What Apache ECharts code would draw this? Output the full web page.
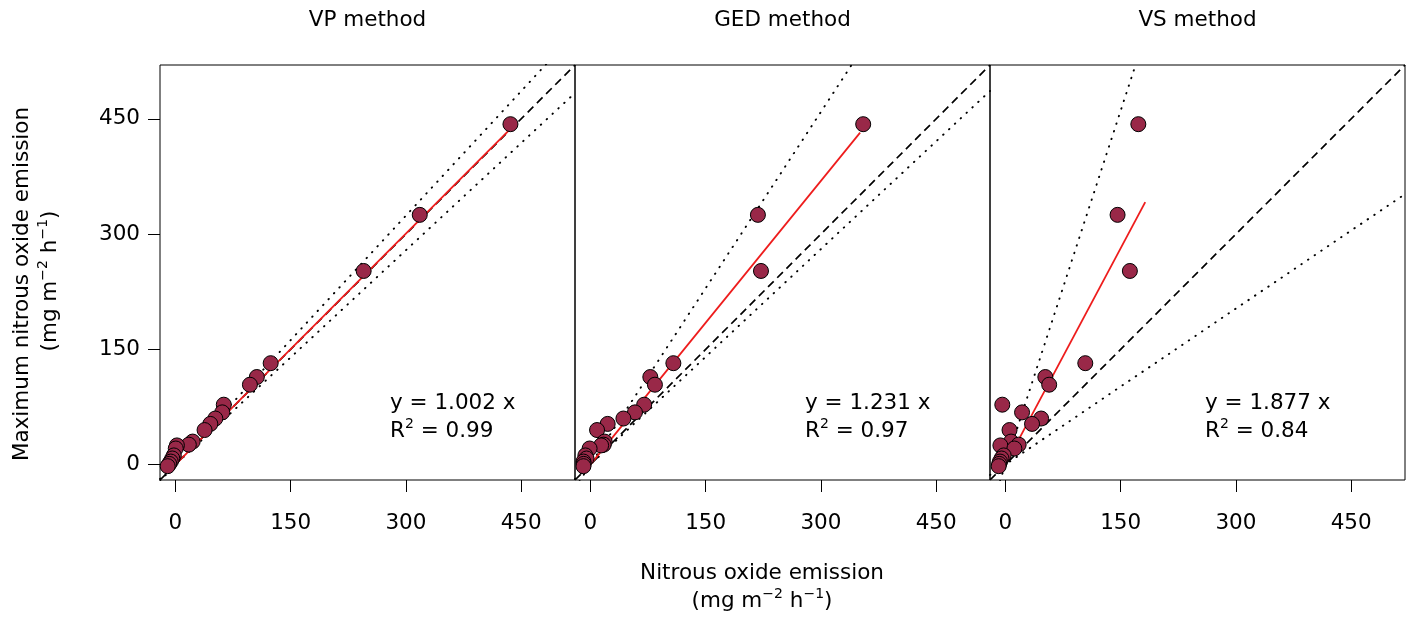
<!DOCTYPE html>
<html><head><meta charset="utf-8">
<script src="https://cdn.jsdelivr.net/npm/echarts@6/dist/echarts.min.js"></script>
<style>html,body{margin:0;padding:0;background:#fff}#c{width:1413px;height:617px}</style>
</head><body><div id="c"></div>
<script>
// ---- data ----
const methods = ['VP method', 'GED method', 'VS method'];
// maximum nitrous oxide emission (y), shared by all panels
const maxEmission = [443, 325, 252, 132, 114, 104, 78, 68, 60, 53, 45, 30, 26, 25, 21, 12, 8, 4, 1, -2];
// estimated emission per method (x)
const vpEmission  = [436, 318, 245, 124, 106, 97, 63, 61, 52, 45.5, 38, 22.5, 17.5, 2, 0.5, -2, -4, -6, -8, -10];
const gedEmission = [355, 218, 222, 108, 78, 84, 70, 58, 43, 22.5, 8.7, 18.6, 17.3, 14, -1, -6.5, -5, -9, -8.7, -9];
const vsEmission  = [173, 146, 162, 104, 52, 57, -4, 21.7, 46.5, 34.7, 5.4, 7.4, 17.3, -6.5, 11.7, -2.2, -5, -7, -8, -8.7];
const fitSlope = [1.002, 1.231, 1.877];
const fitR2 = ['0.99', '0.97', '0.84'];
const fitXStart = [0, 0, 0];
const fitXEnd = [434, 351, 182];
const upperSlope = [1.08, 1.53, 3.07];
const lowerSlope = [0.93, 0.935, 0.677];
const tickValues = [0, 150, 300, 450];
const axisMin = -20, axisMax = 520;

const xs = [vpEmission, gedEmission, vsEmission];
const FONT = 'DejaVu Sans';
const FS = 21.5;
const gridLeft = [160, 575, 990];
const gridTop = 65, gridSize = 415;

const grids = [], xAxes = [], yAxes = [], series = [];
for (let i = 0; i < 3; i++) {
  grids.push({left: gridLeft[i], top: gridTop, width: gridSize, height: gridSize,
    show: true, borderColor: '#000', borderWidth: 1, backgroundColor: 'transparent', containLabel: false});
  xAxes.push({type: 'value', gridIndex: i, min: axisMin, max: axisMax,
    axisLine: {show: false, onZero: false},
    axisTick: {show: true, inside: false, length: 12, customValues: tickValues, lineStyle: {color: '#000', width: 1}},
    axisLabel: {show: true, customValues: tickValues, margin: 32, color: '#000', fontSize: FS, fontFamily: FONT},
    splitLine: {show: false}});
  yAxes.push({type: 'value', gridIndex: i, min: axisMin, max: axisMax, show: i === 0,
    axisLine: {show: false, onZero: false},
    axisTick: {show: true, inside: false, length: 12, customValues: tickValues, lineStyle: {color: '#000', width: 1}},
    axisLabel: {show: true, customValues: tickValues, margin: 20, color: '#000', fontSize: FS, fontFamily: FONT},
    splitLine: {show: false}});
  const refLine = (s) => [[axisMin, s * axisMin], [axisMax, s * axisMax]];
  series.push({type: 'line', xAxisIndex: i, yAxisIndex: i, data: refLine(1), symbol: 'none', clip: true, silent: true, z: 1,
    lineStyle: {color: '#000', width: 1.7, type: [8, 5]}});
  series.push({type: 'line', xAxisIndex: i, yAxisIndex: i, data: refLine(upperSlope[i]), symbol: 'none', clip: true, silent: true, z: 1,
    lineStyle: {color: '#000', width: 1.9, type: [0.5, 7.5], cap: 'round'}});
  series.push({type: 'line', xAxisIndex: i, yAxisIndex: i, data: refLine(lowerSlope[i]), symbol: 'none', clip: true, silent: true, z: 1,
    lineStyle: {color: '#000', width: 1.9, type: [0.5, 7.5], cap: 'round'}});
  series.push({type: 'line', xAxisIndex: i, yAxisIndex: i,
    data: [[fitXStart[i], fitSlope[i] * fitXStart[i]], [fitXEnd[i], fitSlope[i] * fitXEnd[i]]],
    symbol: 'none', clip: true, silent: true, z: 2, lineStyle: {color: '#ee1c1c', width: 1.8}});
  series.push({type: 'scatter', xAxisIndex: i, yAxisIndex: i, z: 3, symbolSize: 15,
    data: xs[i].map((x, k) => [x, maxEmission[k]]),
    itemStyle: {color: '#992848', borderColor: '#000', borderWidth: 1, opacity: 1}});
}

const rich = {
  a: {fontSize: FS, fontFamily: FONT, color: '#000', lineHeight: 28},
  s: {fontSize: 14, fontFamily: FONT, color: '#000', lineHeight: 14, verticalAlign: 'top'}
};
const graphic = [];
const eqLeft = [390, 805, 1205];
for (let i = 0; i < 3; i++) {
  graphic.push({type: 'text', x: gridLeft[i] + gridSize / 2, y: 20,
    style: {text: methods[i], font: FS + 'px ' + FONT, fill: '#000', align: 'center', verticalAlign: 'middle'}});
  graphic.push({type: 'text', x: eqLeft[i], y: 403,
    style: {text: '{a|y = ' + fitSlope[i].toFixed(3) + ' x}', rich: rich, align: 'left', verticalAlign: 'middle'}});
  graphic.push({type: 'text', x: eqLeft[i], y: 431,
    style: {text: '{a|R}{s|2}{a| = ' + fitR2[i] + '}', rich: rich, align: 'left', verticalAlign: 'middle'}});
}
graphic.push({type: 'text', x: 762, y: 573,
  style: {text: 'Nitrous oxide emission', font: FS + 'px ' + FONT, fill: '#000', align: 'center', verticalAlign: 'middle'}});
graphic.push({type: 'text', x: 762, y: 601,
  style: {text: '{a|(mg m}{s|\u22122}{a| h}{s|\u22121}{a|)}', rich: rich, align: 'center', verticalAlign: 'middle'}});
graphic.push({type: 'text', x: 22, y: 284, rotation: Math.PI / 2,
  style: {text: 'Maximum nitrous oxide emission', font: FS + 'px ' + FONT, fill: '#000', align: 'center', verticalAlign: 'middle'}});
graphic.push({type: 'text', x: 50, y: 281, rotation: Math.PI / 2,
  style: {text: '{a|(mg m}{s|\u22122}{a| h}{s|\u22121}{a|)}', rich: rich, align: 'center', verticalAlign: 'middle'}});

const chart = echarts.init(document.getElementById('c'), null, {renderer: 'canvas'});
chart.setOption({
  animation: false,
  backgroundColor: '#fff',
  grid: grids, xAxis: xAxes, yAxis: yAxes, series: series, graphic: graphic
});
</script></body></html>
